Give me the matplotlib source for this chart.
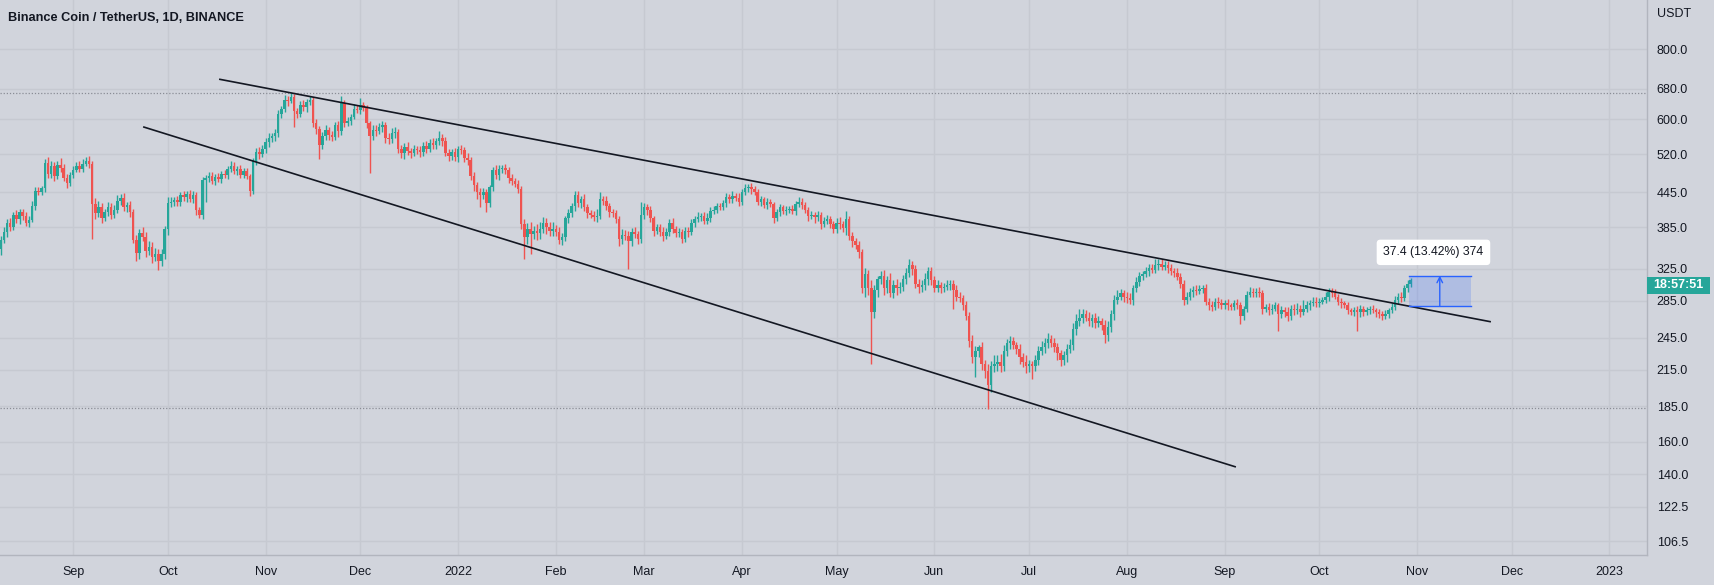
import matplotlib
matplotlib.use("Agg")
import matplotlib.pyplot as plt
import matplotlib.dates as mdates
from matplotlib.patches import Rectangle
from matplotlib.ticker import FixedLocator, NullLocator, FixedFormatter
import numpy as np
import pandas as pd

plt.rcParams['font.family'] = ['Liberation Sans', 'DejaVu Sans']

title = "Binance Coin / TetherUS, 1D, BINANCE"
first_day = "2021-08-09"
first_open = 352

# daily closes (one line per month)
close = [
    366, 378, 392, 386, 405, 398, 410, 403, 392, 397, 421, 448, 445, 452, 502, 480, 495, 476, 498, 492, 472, 462, 478,
    488, 496, 490, 500, 505, 500, 424, 408, 418, 400, 410, 418, 405, 413, 430, 435, 418, 423, 410, 366, 347, 376, 370, 350, 356, 341, 346, 336, 345, 382,
    425, 428, 431, 427, 440, 436, 442, 433, 440, 414, 406, 468, 472, 476, 466, 474, 469, 480, 478, 490, 496, 485, 490, 478, 486, 476, 447, 505, 524, 520, 531,
    546, 556, 560, 566, 612, 626, 650, 646, 656, 620, 614, 636, 630, 645, 650, 590, 576, 540, 560, 574, 562, 558, 585, 572, 640, 592, 596, 606, 626, 624,
    635, 628, 590, 560, 575, 572, 580, 586, 556, 553, 566, 570, 530, 522, 536, 526, 522, 530, 528, 524, 538, 532, 545, 540, 548, 556, 548, 522, 516, 524, 514,
    530, 528, 512, 508, 476, 458, 445, 440, 445, 425, 455, 488, 478, 490, 492, 488, 472, 466, 460, 450, 390, 370, 382, 375, 380, 376, 382, 392, 385, 380, 383,
    378, 366, 370, 400, 408, 420, 440, 425, 432, 418, 408, 406, 402, 404, 432, 430, 420, 410, 408, 398, 368, 374, 372, 365, 378, 375, 368, 405,
    418, 414, 400, 380, 385, 378, 372, 378, 392, 382, 376, 378, 368, 380, 378, 392, 398, 402, 404, 396, 400, 412, 414, 420, 418, 425, 436, 432, 438, 435, 428,
    445, 452, 455, 450, 446, 428, 432, 422, 428, 424, 400, 410, 418, 412, 414, 416, 412, 424, 428, 422, 414, 404, 406, 402, 406, 390, 396, 398, 390, 382,
    392, 390, 384, 398, 372, 364, 358, 348, 300, 318, 300, 272, 298, 312, 316, 300, 310, 294, 304, 300, 302, 312, 320, 330, 325, 306, 302, 304, 312, 322, 310,
    300, 304, 300, 302, 304, 306, 298, 290, 288, 280, 268, 242, 226, 232, 236, 220, 214, 202, 218, 220, 222, 218, 232, 240, 242, 238, 234, 226, 222, 218,
    220, 218, 224, 232, 236, 240, 244, 240, 236, 230, 224, 228, 234, 238, 254, 262, 266, 270, 266, 262, 266, 260, 262, 258, 248, 256, 270, 286, 290, 294, 290,
    288, 286, 300, 308, 316, 318, 322, 326, 324, 330, 332, 328, 330, 326, 322, 320, 314, 306, 286, 290, 296, 298, 297, 299, 300, 284, 280, 278, 284, 282, 280,
    282, 280, 278, 282, 280, 268, 276, 292, 296, 294, 296, 294, 276, 278, 274, 276, 280, 270, 274, 272, 268, 276, 274, 276, 272, 276, 280, 282, 284, 282,
    284, 286, 290, 296, 294, 290, 284, 282, 280, 274, 272, 274, 272, 276, 272, 274, 276, 274, 272, 270, 268, 270, 274, 278, 286, 290, 288, 300, 306, 310,
]
# upper / lower wick length above / below the body, in USDT
wick_hi = [
    6, 8, 6, 9, 5, 8, 6, 5, 7, 6, 8, 6, 7, 5, 8, 12, 10, 9, 8, 14, 8, 7, 6,
    7, 8, 9, 10, 8, 12, 6, 10, 12, 8, 6, 9, 7, 10, 10, 6, 8, 5, 6, 6, 8, 6, 10, 8, 8, 7, 8, 6, 7, 6,
    12, 8, 6, 7, 6, 8, 6, 7, 8, 6, 5, 6, 6, 8, 7, 6, 7, 6, 8, 6, 10, 8, 6, 8, 6, 5, 4, 6, 10, 12, 8,
    10, 12, 8, 10, 10, 8, 12, 10, 13, 8, 8, 10, 12, 8, 10, 6, 10, 8, 10, 12, 8, 10, 8, 10, 20, 8, 10, 8, 12, 10,
    20, 10, 8, 6, 12, 10, 12, 10, 8, 10, 12, 10, 6, 10, 8, 10, 8, 10, 8, 10, 8, 10, 8, 10, 8, 16, 8, 10, 8, 8, 10,
    8, 10, 8, 10, 6, 8, 6, 8, 8, 6, 4, 6, 10, 8, 6, 8, 6, 8, 6, 8, 6, 8, 10, 12, 8, 10, 12, 10, 8, 8, 10,
    6, 8, 6, 4, 8, 6, 7, 8, 6, 10, 6, 5, 6, 12, 13, 6, 8, 6, 5, 6, 5, 8, 7, 8, 6, 8, 5, 22,
    8, 6, 6, 4, 6, 5, 8, 6, 6, 8, 5, 6, 4, 6, 5, 6, 6, 8, 5, 6, 8, 6, 7, 6, 5, 6, 8, 6, 10, 6, 8,
    6, 8, 6, 7, 6, 5, 6, 5, 6, 5, 4, 6, 6, 5, 6, 5, 6, 6, 8, 6, 5, 5, 6, 5, 6, 5, 6, 8, 5, 6,
    8, 10, 6, 14, 6, 6, 5, 6, 5, 8, 6, 10, 6, 4, 6, 8, 6, 10, 6, 8, 6, 5, 6, 8, 6, 5, 6, 6, 8, 5, 6,
    6, 6, 4, 5, 6, 5, 4, 6, 5, 4, 5, 4, 6, 5, 2, 5, 4, 6, 5, 8, 6, 7, 6, 4, 5, 4, 3, 5, 4, 6,
    4, 3, 4, 5, 6, 5, 6, 4, 5, 4, 3, 4, 5, 6, 6, 8, 10, 6, 5, 6, 4, 5, 6, 4, 5, 6, 5, 6, 8, 5, 4,
    5, 6, 4, 6, 5, 4, 6, 5, 6, 8, 6, 6, 5, 6, 5, 4, 6, 5, 4, 5, 4, 5, 6, 5, 4, 6, 4, 5, 4, 6, 5,
    4, 5, 3, 4, 5, 4, 3, 5, 6, 4, 5, 6, 4, 3, 4, 5, 4, 3, 5, 4, 6, 4, 5, 6, 4, 10, 5, 4, 6, 5,
    4, 3, 5, 5, 4, 5, 3, 4, 3, 4, 3, 4, 5, 4, 3, 4, 3, 4, 3, 4, 3, 4, 3, 4, 5, 4, 5, 4, 5, 3,
]
wick_lo = [
    8, 5, 7, 6, 5, 6, 7, 6, 5, 6, 4, 7, 6, 5, 6, 8, 9, 10, 6, 8, 7, 9, 5,
    6, 5, 6, 7, 5, 8, 57, 10, 6, 8, 5, 6, 7, 4, 5, 8, 6, 7, 8, 5, 12, 8, 6, 9, 6, 8, 6, 13, 7, 6,
    8, 6, 8, 6, 7, 6, 8, 6, 7, 8, 6, 8, 40, 8, 6, 8, 6, 7, 6, 8, 7, 6, 8, 6, 7, 6, 9, 6, 8, 10, 7,
    8, 10, 9, 12, 8, 10, 8, 12, 6, 40, 10, 8, 10, 12, 8, 10, 12, 30, 10, 8, 12, 10, 8, 14, 10, 12, 8, 10, 6, 8,
    10, 8, 12, 78, 10, 12, 8, 10, 12, 10, 8, 10, 8, 10, 12, 8, 10, 6, 8, 10, 8, 10, 8, 10, 8, 8, 10, 6, 10, 8, 8,
    10, 8, 8, 10, 8, 10, 12, 22, 8, 15, 6, 8, 8, 10, 8, 8, 10, 8, 6, 6, 8, 32, 10, 30, 8, 10, 8, 6, 10, 8, 8,
    6, 6, 8, 6, 8, 6, 8, 6, 8, 6, 8, 6, 7, 8, 6, 8, 6, 8, 6, 6, 11, 8, 6, 40, 8, 6, 8, 6,
    6, 8, 6, 8, 5, 6, 7, 5, 6, 6, 6, 5, 6, 5, 8, 4, 6, 5, 6, 6, 5, 6, 5, 6, 5, 4, 6, 7, 6, 5, 7,
    6, 5, 6, 8, 6, 6, 8, 5, 6, 6, 8, 5, 6, 5, 6, 6, 5, 6, 5, 6, 6, 8, 5, 10, 6, 8, 5, 6, 6, 5,
    6, 8, 6, 10, 6, 8, 6, 8, 6, 10, 8, 52, 6, 8, 6, 8, 6, 5, 6, 8, 6, 5, 6, 6, 8, 6, 8, 6, 6, 8, 6,
    5, 4, 6, 5, 4, 6, 22, 5, 4, 6, 5, 6, 5, 17, 6, 5, 6, 19, 6, 5, 6, 5, 4, 5, 6, 4, 5, 6, 5, 6,
    5, 11, 4, 5, 4, 6, 5, 4, 5, 6, 6, 5, 6, 4, 5, 6, 5, 6, 4, 5, 6, 5, 4, 5, 8, 6, 5, 6, 5, 4, 6,
    6, 5, 6, 4, 5, 6, 4, 6, 5, 4, 6, 5, 4, 6, 5, 6, 4, 5, 6, 5, 4, 6, 5, 4, 5, 4, 6, 5, 4, 5, 4,
    4, 5, 4, 3, 4, 9, 5, 4, 3, 5, 4, 5, 6, 4, 5, 4, 3, 18, 4, 5, 6, 4, 5, 4, 5, 3, 4, 5, 3, 4,
    4, 3, 4, 5, 4, 3, 4, 5, 3, 4, 3, 4, 20, 5, 4, 3, 4, 3, 5, 4, 4, 3, 4, 3, 4, 5, 4, 3, 4, 4,
]

price_ticks = [106.5, 122.5, 140.0, 160.0, 185.0, 215.0, 245.0, 285.0, 325.0,
               385.0, 445.0, 520.0, 600.0, 680.0, 800.0]
upper_line_dates = ["2021-10-17 06:00", "2022-11-24 10:00"]
upper_line_prices = [707.0, 261.6]
lower_line_dates = ["2021-09-23 04:00", "2022-09-04 14:00"]
lower_line_prices = [581.6, 144.3]
range_high = 669.3
range_low = 183.4
measure_dates = ["2022-10-29 10:00", "2022-11-18 00:00"]
measure_prices = [278.7, 316.1]
measure_text = "37.4 (13.42%) 374"
countdown = "18:57:51"

BG = "#d1d4dc"
GRID = "#c6c9d1"
UP = "#26a69a"
DOWN = "#ef5350"
TXT = "#131722"
BLUE = "#2962ff"

n = min(len(close), len(wick_hi), len(wick_lo))
c = np.array(close[:n], float)
o = np.r_[first_open, c[:-1]]
hi = np.maximum(o, c) + np.array(wick_hi[:n])
lo = np.minimum(o, c) - np.array(wick_lo[:n])
dates = pd.date_range(first_day, periods=n, freq="D")
x = mdates.date2num(dates)
col = np.where(c >= o, UP, DOWN)

W, H = 1715, 585
fig = plt.figure(figsize=(W / 100, H / 100), dpi=100, facecolor=BG)
ax = fig.add_axes([0, 30 / H, 1647 / W, 555 / H], facecolor=BG)
ax.set_yscale("log")

jan1 = mdates.date2num(pd.Timestamp("2022-01-01"))
ax.set_xlim(jan1 - 145.2, jan1 + 376.9)
ax.set_ylim(100.6, 978)

# grid
months = pd.date_range("2021-09-01", "2023-01-01", freq="MS")
for m in months:
    ax.axvline(mdates.date2num(m), color=GRID, lw=1, zorder=0)
for p in price_ticks:
    ax.axhline(p, color=GRID, lw=1, zorder=0)

# high / low lines
for p in (range_high, range_low):
    ax.axhline(p, color="#8a8d96", lw=0.9, ls=(0, (1, 1.5)), zorder=1)

# candles
ax.vlines(x, lo, hi, colors=col, lw=1.0, zorder=3)
body_lo = np.minimum(o, c)
body_h = np.maximum(np.abs(c - o), c * 0.004)
ax.bar(x, body_h, bottom=body_lo, width=0.8, color=col, linewidth=0, zorder=4)

# trend lines
ax.plot(mdates.date2num(pd.to_datetime(upper_line_dates)), upper_line_prices,
        color=TXT, lw=1.2, zorder=5, solid_capstyle="butt")
ax.plot(mdates.date2num(pd.to_datetime(lower_line_dates)), lower_line_prices,
        color=TXT, lw=1.2, zorder=5, solid_capstyle="butt")

# price range measure
mx0, mx1 = mdates.date2num(pd.to_datetime(measure_dates))
p0, p1 = measure_prices
ax.add_patch(Rectangle((mx0, p0), mx1 - mx0, p1 - p0, facecolor=BLUE,
                       alpha=0.2, linewidth=0, zorder=6))
ax.plot([mx0, mx1], [p0, p0], color=BLUE, lw=1, zorder=7)
ax.plot([mx0, mx1], [p1, p1], color=BLUE, lw=1, zorder=7)
mxm = (mx0 + mx1) / 2
ax.annotate("", xy=(mxm, p1), xytext=(mxm, p0),
            arrowprops=dict(arrowstyle="->", color=BLUE, lw=1,
                            shrinkA=0, shrinkB=0, mutation_scale=10), zorder=7)
ax.text(mxm - 2, p1 * 1.1, measure_text, ha="center", va="center",
        fontsize=8.8, color=TXT, zorder=8,
        bbox=dict(boxstyle="round,pad=0.55,rounding_size=0.3", fc="white", ec="none"))

# axes styling
for s in ("top", "left"):
    ax.spines[s].set_visible(False)
for s in ("right", "bottom"):
    ax.spines[s].set_color("#b2b5be")
    ax.spines[s].set_linewidth(1)

ax.yaxis.tick_right()
ax.yaxis.set_major_locator(FixedLocator(price_ticks))
ax.yaxis.set_major_formatter(FixedFormatter(["%.1f" % p for p in price_ticks]))
ax.yaxis.set_minor_locator(NullLocator())
ax.tick_params(axis="y", length=0, pad=7, labelsize=9, labelcolor=TXT)

ax.xaxis.set_major_locator(FixedLocator(mdates.date2num(months)))
ax.xaxis.set_major_formatter(FixedFormatter(
    [str(m.year) if m.month == 1 else m.strftime("%b") for m in months]))
ax.tick_params(axis="x", length=0, pad=8, labelsize=9, labelcolor=TXT)

fig.text(8 / W, 1 - 21 / H, title, fontsize=9.2, fontweight="bold",
         color=TXT, va="baseline", ha="left")
fig.text(1657 / W, 1 - 14 / H, "USDT", fontsize=9, color=TXT,
         va="center", ha="left")

# countdown label on the price scale
fig.patches.append(Rectangle((1647 / W, 1 - 294 / H), 63 / W, 17 / H,
                             transform=fig.transFigure, facecolor=UP,
                             edgecolor="none", zorder=10))
fig.text(1678.5 / W, 1 - 285.5 / H, countdown, fontsize=9, fontweight="bold",
         color="white", ha="center", va="center", zorder=11)

fig.savefig("out.png", dpi=100, facecolor=BG)
